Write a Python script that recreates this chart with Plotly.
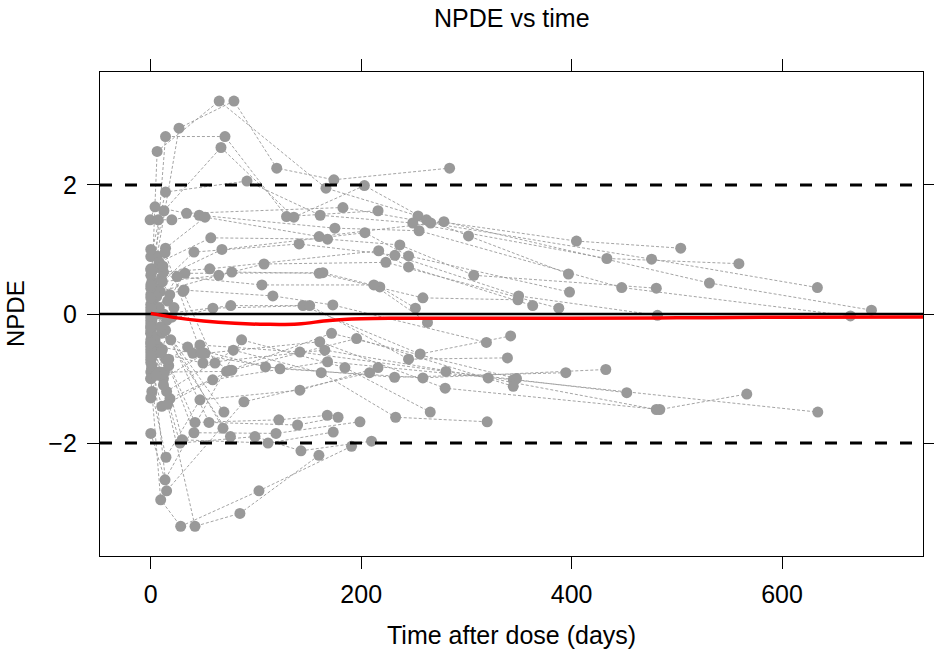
import plotly.graph_objects as go

# ---- data ----
subj_time = [
    [0, 6, 26.8, 79, 119.7, 174, 284],
    [1, 6, 65, 166.5, 254, 302, 397],
    [2, 14, 70.5, 129, 216],
    [0, 12.5, 66.7, 136, 203, 262, 404.6, 503.7],
    [0, 14, 91.4, 161, 249, 433.5, 559],
    [-0.7, 4, 34, 182.6, 266, 476, 633.6],
    [7, 20, 46, 175, 255, 447.6, 665],
    [0, 14, 51.5, 160, 278.6, 531, 685],
    [0, 8, 57, 168, 236.7, 307, 480.5],
    [1, 10, 67.6, 203.5, 245, 398],
    [0, 5, 41, 141, 232, 349.6, 481.6],
    [0, 12, 56, 216.6, 245, 363],
    [2, 11, 64.6, 107.6, 223.4, 387.8],
    [0, 9, 77, 160, 258.6, 349],
    [0, 16, 32.5, 163.6, 217.7, 251.5],
    [1, 8, 25, 105.6, 212, 263],
    [0, 5.6, 31.6, 116, 173, 319],
    [0, 12, 76, 144.6, 256, 342],
    [0, 15, 59, 151, 245, 339],
    [0, 10, 35, 109, 231.7, 394.5],
    [1, 7, 40, 122.8, 258.6, 432.5],
    [0, 14, 46.7, 141.7, 280.5, 452.4],
    [0, 12, 51.5, 160.6, 279.8, 483.8, 566.5],
    [0, 6, 49.6, 165.4, 320.7, 480.5],
    [0.8, 10.4, 58.8, 168, 344.5, 634],
    [0, 8, 72, 171.8, 347.6],
    [0, 18.2, 77, 195.6, 344.5],
    [0, 15, 78.4, 162, 232.7, 319.7],
    [0, 13.5, 86.3, 184.5, 265.6],
    [1, 14.4, 46.7, 141.7, 216],
    [0, 15, 88.5, 208],
    [0, 9.4, 28.4, 102.8, 190.8],
    [2, 16, 42, 84.7, 159.8],
    [0, 12, 27.7, 99, 142.7, 209.8],
    [0, 13, 30, 111.4, 173.4],
    [1, 17, 41, 119, 198.8],
    [0, 11, 42, 121.7, 167.7],
    [0, 19, 55.3, 139.5, 178],
    [0, 14, 69.5],
    [0, 9, 75.7],
    [0, 6, 68.6],
    [0, 3, 18],
    [0, 4, 20],
    [0, 10, 22],
    [0, 5, 17],
    [0, 11.5, 30.6, 61],
    [0, 13.5, 48, 75],
]
subj_npde = [
    [-0.05, 0.9, 2.88, 3.30, 2.26, 2.08, 2.26],
    [0.5, 2.52, 3.30, 1.95, 1.52, 1.21, 0.62],
    [0.3, 2.75, 2.75, 1.51, 1.60],
    [0.7, 1.60, 2.58, 1.50, 1.99, 1.46, 1.13, 1.02],
    [0.89, 1.89, 2.06, 1.53, 1.41, 0.86, 0.78],
    [1.46, 1.66, 1.56, 1.65, 1.41, 0.85, 0.41],
    [1.46, 1.46, 1.53, 1.33, 1.29, 0.41, -0.03],
    [0.6, 1.02, 1.50, 1.20, 1.43, 0.48, 0.06],
    [0.3, 0.8, 1.18, 1.16, 1.07, 0.60, 0.40],
    [0.1, 0.55, 1.0, 1.26, 0.9, 0.34],
    [-0.2, 0.4, 0.96, 1.085, 0.91, 0.28, -0.02],
    [0.4, 0.65, 0.70, 0.98, 0.73, 0.13],
    [0.2, 0.5, 0.6, 0.775, 0.8, 0.09],
    [-0.4, 0.35, 0.65, 0.63, 0.25, 0.22],
    [0.15, 0.2, 0.63, 0.64, 0.42, 0.09],
    [-0.1, 0.1, 0.58, 0.45, 0.45, -0.13],
    [0.05, 0.27, 0.37, 0.28, 0.14, -0.44],
    [-0.3, 0.0, 0.13, 0.13, -0.62, -0.34],
    [0.0, -0.1, 0.09, 0.13, -0.70, -0.68],
    [-0.6, -0.3, -0.51, -0.82, -0.98, -0.91],
    [-0.8, -0.5, -0.61, -0.85, -0.99, -0.86],
    [-0.5, -0.7, -0.48, -0.59, -0.89, -1.22],
    [-0.9, -1.0, -0.61, -0.43, -1.15, -1.48, -1.24],
    [-1.0, -0.6, -0.76, -0.56, -0.99, -1.48],
    [-0.84, -1.43, -1.02, -0.74, -1.02, -1.52],
    [-0.3, -0.9, -0.89, -0.30, -1.0],
    [-0.15, -1.31, -0.87, -0.38, -1.12],
    [-0.7, -1.2, -0.56, -0.91, -1.60, -1.67],
    [-1.85, -2.57, -0.40, -0.83, -1.52],
    [-1.2, -2.22, -1.33, -1.18, -0.83],
    [-0.45, -2.74, -1.36, -0.91],
    [-1.0, -2.88, -3.29, -2.74, -2.05],
    [-0.6, -1.4, -3.29, -3.09, -2.19],
    [-0.25, -1.1, -2.0, -1.90, -2.12, -1.97],
    [-0.55, -0.9, -1.95, -2.0, -1.83],
    [-0.35, -0.8, -1.84, -1.85, -1.67],
    [-0.75, -0.55, -1.68, -1.64, -1.57],
    [-0.1, -0.4, -1.68, -1.72, -1.60],
    [0.1, -0.25, -1.52],
    [-0.65, -0.2, -1.90],
    [0.45, 0.0, -1.77],
    [1.0, 0.7, 0.3],
    [-0.2, -0.4, -0.05],
    [0.25, -0.6, 0.1],
    [-1.3, -0.95, -0.7],
    [0.68, 0.74, 0.35, -0.76],
    [-0.45, 0.95, -0.61, -0.87],
]

smooth_time = [0, 25, 50, 80, 110, 140, 170, 200, 230, 300, 400, 500, 600, 734]
smooth_npde = [0.01, -0.06, -0.11, -0.145, -0.16, -0.155, -0.10, -0.075, -0.067,
               -0.065, -0.067, -0.06, -0.05, -0.045]

ref_levels = [-2, 0, 2]
x_ticks = [0, 200, 400, 600]
y_ticks = [-2, 0, 2]
y_ticklabels = ["\u22122", "0", "2"]
x_range = [-48.3, 734]
y_range = [-3.75, 3.75]

GRAY = "#999999"
FONT = "Liberation Sans, Arial, Helvetica, sans-serif"

fig = go.Figure()

lx, ly = [], []
for t, v in zip(subj_time, subj_npde):
    lx += list(t) + [None]
    ly += list(v) + [None]
fig.add_trace(go.Scatter(x=lx, y=ly, mode="lines", connectgaps=False,
                         line=dict(color="#9a9a9a", width=0.9, dash="3px,2px"),
                         hoverinfo="skip", showlegend=False))
px_, py_ = [], []
for t, v in zip(subj_time, subj_npde):
    px_ += list(t)
    py_ += list(v)
fig.add_trace(go.Scatter(x=px_, y=py_, mode="markers",
                         marker=dict(color=GRAY, size=11, line=dict(width=0)),
                         showlegend=False))

for lev in ref_levels:
    if lev == 0:
        fig.add_trace(go.Scatter(x=x_range, y=[lev, lev], mode="lines",
                                 line=dict(color="black", width=2.5),
                                 hoverinfo="skip", showlegend=False))
    else:
        fig.add_trace(go.Scatter(x=x_range, y=[lev, lev], mode="lines",
                                 line=dict(color="black", width=3, dash="12px,13px"),
                                 hoverinfo="skip", showlegend=False))

fig.add_trace(go.Scatter(x=smooth_time, y=smooth_npde, mode="lines",
                         line=dict(color="red", width=3.5, shape="spline"),
                         showlegend=False))

axis_common = dict(showgrid=False, zeroline=False, showline=True, linecolor="black",
                   linewidth=1.3, mirror="ticks", ticks="outside", ticklen=12,
                   tickwidth=1.3, tickcolor="black", automargin=False,
                   tickfont=dict(family=FONT, size=25, color="black"))

fig.update_layout(
    width=934, height=650,
    margin=dict(l=100, r=11, t=72, b=94),
    paper_bgcolor="white", plot_bgcolor="white",
    xaxis=dict(range=x_range, tickvals=x_ticks, ticklabelstandoff=4, **axis_common),
    yaxis=dict(range=y_range, tickvals=y_ticks, ticktext=y_ticklabels,
               ticklabelstandoff=5, **axis_common),
    font=dict(family=FONT, color="black"),
    annotations=[
        dict(text="NPDE vs time", xref="paper", yref="paper", x=0.5, y=(556 - 18) / 484,
             xanchor="center", yanchor="middle", showarrow=False,
             font=dict(family=FONT, size=25, color="black")),
        dict(text="Time after dose (days)", xref="paper", yref="paper", x=0.5,
             y=(556 - 635) / 484, xanchor="center", yanchor="middle", showarrow=False,
             font=dict(family=FONT, size=25, color="black")),
        dict(text="NPDE", xref="paper", yref="paper", x=(15 - 100) / 823, y=0.5,
             xanchor="center", yanchor="middle", showarrow=False, textangle=-90,
             font=dict(family=FONT, size=24, color="black")),
    ],
)

# remove the browser's default 8px body margin so the figure fills the window exactly
fig.write_html("out.html", config={"displayModeBar": False},
               post_script="document.body.style.margin='0';document.body.style.overflow='hidden';")
